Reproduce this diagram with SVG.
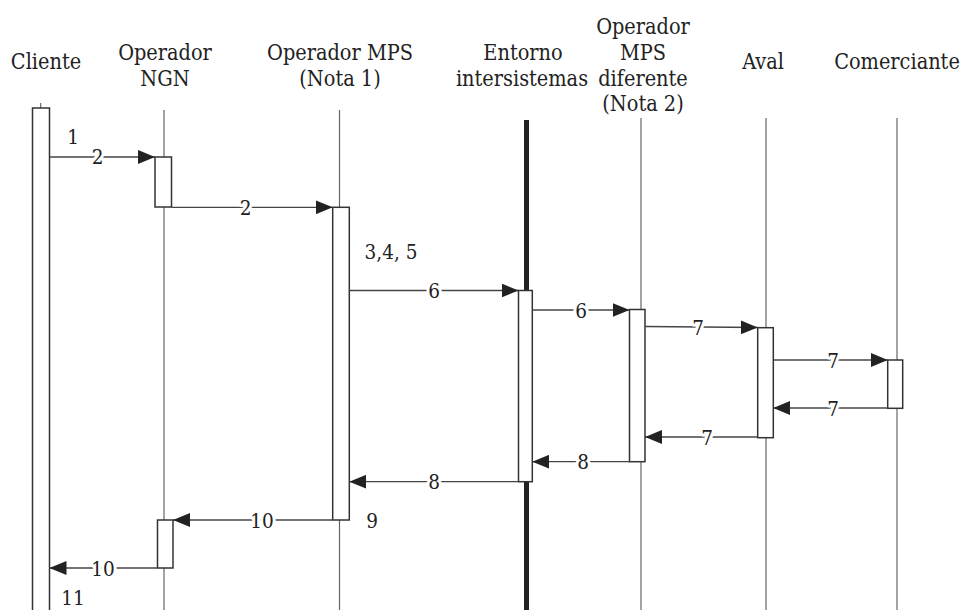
<svg xmlns="http://www.w3.org/2000/svg" width="962" height="610" viewBox="0 0 962 610">
<style>
  text { font-family: 'DejaVu Serif Condensed', 'DejaVu Serif', serif; font-stretch: condensed; fill: #222; text-anchor: middle; }
  .hdr { font-size: 21.5px; }
  .num { font-size: 20.5px; }
  .lbl { font-size: 20.5px; stroke: #fff; stroke-width: 6px; paint-order: stroke; stroke-linejoin: round; }
  .life { stroke: #666; stroke-width: 1.2; fill: none; }
  .thick { stroke: #222; stroke-width: 5; fill: none; }
  .act { fill: #fff; stroke: #333; stroke-width: 1.5; }
  .msg { stroke: #444; stroke-width: 1.3; fill: none; marker-end: url(#ah); }
</style>
<defs>
  <marker id="ah" markerUnits="userSpaceOnUse" markerWidth="17" markerHeight="14" refX="17" refY="7" orient="auto">
    <path d="M0,0 L17,7 L0,14 z" fill="#222"/>
  </marker>
</defs>
<rect width="962" height="610" fill="#fff"/>

<g id="cliente">
  <text class="hdr" x="46" y="69">Cliente</text>
  <line class="life" x1="40.7" y1="103" x2="40.7" y2="108"/>
  <rect class="act" x="32.5" y="108" width="17" height="520"/>
</g>

<g id="operador-ngn">
  <text class="hdr" x="165" y="60">Operador</text>
  <text class="hdr" x="165" y="86">NGN</text>
  <line class="life" x1="164" y1="110" x2="164" y2="610"/>
  <rect class="act" x="155" y="157" width="16.5" height="50"/>
  <rect class="act" x="157.5" y="520" width="15.5" height="48"/>
</g>

<g id="operador-mps">
  <text class="hdr" x="340" y="60">Operador MPS</text>
  <text class="hdr" x="340" y="86">(Nota 1)</text>
  <line class="life" x1="339.5" y1="110" x2="339.5" y2="610"/>
  <rect class="act" x="332.7" y="207.3" width="16.6" height="312.7"/>
</g>

<g id="entorno">
  <text class="hdr" x="523" y="60">Entorno</text>
  <text class="hdr" x="522" y="86">intersistemas</text>
  <line class="thick" x1="526.5" y1="120" x2="526.5" y2="610"/>
  <rect class="act" x="518.5" y="290.5" width="13.8" height="191.2"/>
</g>

<g id="operador-mps-diferente">
  <text class="hdr" x="643" y="34">Operador</text>
  <text class="hdr" x="643" y="60">MPS</text>
  <text class="hdr" x="643" y="86">diferente</text>
  <text class="hdr" x="643" y="111">(Nota 2)</text>
  <line class="life" x1="641" y1="118" x2="641" y2="610"/>
  <rect class="act" x="629.5" y="309.5" width="15.5" height="152.2"/>
</g>

<g id="aval">
  <text class="hdr" x="763" y="69">Aval</text>
  <line class="life" x1="766" y1="118" x2="766" y2="610"/>
  <rect class="act" x="757.7" y="327.7" width="15.6" height="110"/>
</g>

<g id="comerciante">
  <text class="hdr" x="897" y="69">Comerciante</text>
  <line class="life" x1="897" y1="118" x2="897" y2="610"/>
  <rect class="act" x="887.7" y="360" width="15" height="48.3"/>
</g>

<g id="connectors">
  <line class="msg" x1="49.5" y1="157" x2="155" y2="157"/>
  <line class="msg" x1="171.5" y1="207.3" x2="332.7" y2="207.3"/>
  <line class="msg" x1="349.3" y1="290.5" x2="518.5" y2="290.5"/>
  <line class="msg" x1="532.3" y1="310" x2="629.5" y2="310"/>
  <line class="msg" x1="645" y1="326.5" x2="757.7" y2="327.5"/>
  <line class="msg" x1="773.3" y1="360" x2="887.7" y2="360"/>
  <line class="msg" x1="887.7" y1="408" x2="773.3" y2="408"/>
  <line class="msg" x1="757.7" y1="437" x2="645" y2="437"/>
  <line class="msg" x1="629.5" y1="461.7" x2="532.3" y2="461.7"/>
  <line class="msg" x1="518.5" y1="481.7" x2="349.3" y2="481.7"/>
  <line class="msg" x1="332.7" y1="520" x2="173" y2="520"/>
  <line class="msg" x1="157.5" y1="568" x2="49.5" y2="568"/>
</g>

<g id="labels">
  <text class="num" x="73" y="143.5">1</text>
  <text class="lbl" x="97.5" y="164">2</text>
  <text class="lbl" x="245.7" y="214.5">2</text>
  <text class="num" x="391" y="259">3,4, 5</text>
  <text class="lbl" x="434" y="298">6</text>
  <text class="lbl" x="581" y="317.5">6</text>
  <text class="lbl" x="698" y="334.5">7</text>
  <text class="lbl" x="833" y="367.5">7</text>
  <text class="lbl" x="833" y="415.5">7</text>
  <text class="lbl" x="707" y="444.5">7</text>
  <text class="lbl" x="583" y="469">8</text>
  <text class="lbl" x="434" y="489">8</text>
  <text class="lbl" x="262" y="527.5">10</text>
  <text class="num" x="372" y="528">9</text>
  <text class="lbl" x="103" y="575.5">10</text>
  <text class="num" x="73" y="604.5">11</text>
</g>
</svg>
